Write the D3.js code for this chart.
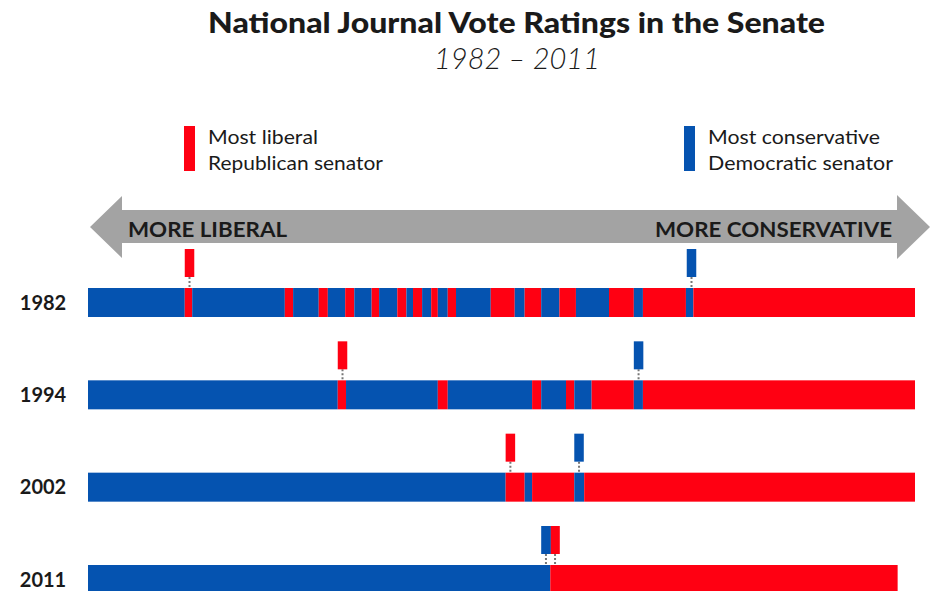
<!DOCTYPE html>
<html>
<head>
<meta charset="utf-8">
<script src="https://cdn.jsdelivr.net/npm/d3@7/dist/d3.min.js"></script>
<style>
  html, body { margin: 0; padding: 0; background: #fff; }
  svg { display: block; }
  text { font-family: Lato, "Open Sans", sans-serif; fill: #1a1a1a; }
</style>
</head>
<body>
<svg id="chart" width="930" height="591"></svg>
<script>
// ---- Data ----
const years = ["1982", "1994", "2002", "2011"];
// Senators ordered from most liberal (0) to most conservative (100).
// Boundaries between consecutive party runs; runs alternate Democrat / Republican, starting with Democrat.
const breaks1982 = [0, 11.7, 12.6, 23.8, 24.8, 27.9, 29.0, 31.1, 32.2, 34.3, 35.2, 37.4, 38.5, 39.3, 40.4, 41.5, 42.3, 43.5, 44.5, 48.7, 51.6, 52.8, 54.8, 57.0, 59.0, 63.0, 66.0, 67.1, 72.3, 73.2, 100];
const breaks1994 = [0, 30.2, 31.2, 42.3, 43.5, 53.7, 54.8, 57.8, 58.8, 60.9, 66.0, 67.1, 100];
const breaks2002 = [0, 50.5, 52.8, 53.7, 58.8, 60.0, 100];
const breaks2011 = [0, 55.9, 97.9];
const breaksByYear = [breaks1982, breaks1994, breaks2002, breaks2011];
// Position of most liberal Republican and most conservative Democrat
const mostLiberalRep = [11.7, 30.2, 50.5, 55.9];
const mostConservativeDem = [72.4, 66.0, 58.8, 54.8];

const title = "National Journal Vote Ratings in the Senate";
const subtitle = "1982 \u2013 2011";
const legendRep = ["Most liberal", "Republican senator"];
const legendDem = ["Most conservative", "Democratic senator"];
const arrowLeft = "MORE LIBERAL";
const arrowRight = "MORE CONSERVATIVE";

// ---- Styles ----
const BLUE = "#0553b0";
const RED = "#ff0012";
const GRAY = "#a3a3a3";

const svg = d3.select("#chart");

const x = d3.scaleLinear().domain([0, 100]).range([88, 915]);
const y = d3.scalePoint().domain(years).range([288, 565]);
const barH = 29;
const markerW = x(1.15) - x(0);

function fit(sel, len) {
  return sel.attr("textLength", len).attr("lengthAdjust", "spacingAndGlyphs");
}

// Title
fit(svg.append("text").attr("x", 208).attr("y", 33)
  .attr("font-size", 28).attr("font-weight", 900).text(title), 617);
svg.append("text").attr("x", 517).attr("y", 69).attr("text-anchor", "middle")
  .attr("font-size", 29).attr("font-style", "italic").attr("font-weight", 300).text(subtitle);

// Legend
function legend(lx, color, lines, lens) {
  svg.append("rect").attr("x", lx).attr("y", 126).attr("width", 11).attr("height", 45).attr("fill", color);
  lines.forEach((t, i) => {
    fit(svg.append("text").attr("x", lx + 24).attr("y", 144 + i * 26).attr("font-size", 19).text(t), lens[i]);
  });
}
legend(184, RED, legendRep, [110, 175]);
legend(684, BLUE, legendDem, [172, 185]);

// Arrow
const arrow = d3.path();
arrow.moveTo(90, 227);
arrow.lineTo(122, 196);
arrow.lineTo(122, 210);
arrow.lineTo(897, 210);
arrow.lineTo(897, 195);
arrow.lineTo(930, 227);
arrow.lineTo(897, 259);
arrow.lineTo(897, 243);
arrow.lineTo(122, 243);
arrow.lineTo(122, 258);
arrow.closePath();
svg.append("path").attr("d", arrow.toString()).attr("fill", GRAY);
fit(svg.append("text").attr("x", 128).attr("y", 237).attr("font-size", 21).attr("font-weight", 700)
  .attr("fill", "#111").text(arrowLeft), 159);
fit(svg.append("text").attr("x", 655).attr("y", 237).attr("font-size", 21)
  .attr("font-weight", 700).attr("fill", "#111").text(arrowRight), 237);

// Bars
years.forEach((yr, yi) => {
  const b = breaksByYear[yi];
  const segs = d3.pairs(b).map((p, i) => ({ x0: p[0], x1: p[1], party: i % 2 === 0 ? "D" : "R" }));
  const g = svg.append("g");
  g.selectAll("rect").data(segs).join("rect")
    .attr("x", d => x(d.x0))
    .attr("y", y(yr))
    .attr("width", d => x(d.x1) - x(d.x0))
    .attr("height", barH)
    .attr("fill", d => d.party === "D" ? BLUE : RED);

  // Year label
  svg.append("text").attr("x", 43).attr("y", y(yr) + barH / 2 + 7).attr("text-anchor", "middle")
    .attr("font-size", 20).attr("font-weight", 700).text(yr);

  // Markers
  const markers = [
    { pos: mostLiberalRep[yi], color: RED },
    { pos: mostConservativeDem[yi], color: BLUE }
  ];
  markers.forEach(m => {
    const mx = x(m.pos);
    const top = y(yr) - 39;
    svg.append("line").attr("x1", mx + markerW / 2).attr("x2", mx + markerW / 2)
      .attr("y1", top + 28).attr("y2", y(yr))
      .attr("stroke", "#777").attr("stroke-width", 2).attr("stroke-dasharray", "2,2");
    svg.append("rect").attr("x", mx).attr("y", top).attr("width", markerW).attr("height", 28)
      .attr("fill", m.color);
  });
});
</script>
</body>
</html>
